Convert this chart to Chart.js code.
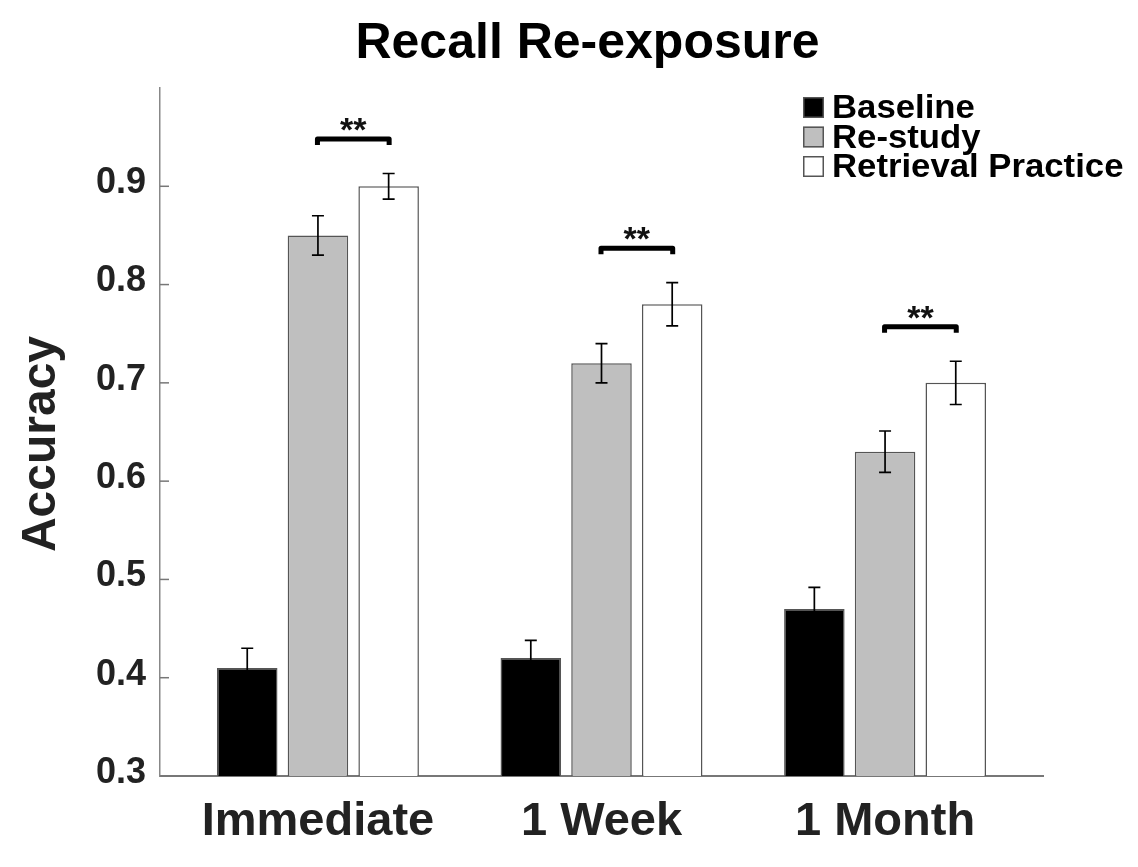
<!DOCTYPE html>
<html>
<head>
<meta charset="utf-8">
<script src="https://cdn.jsdelivr.net/npm/chart.js@4/dist/chart.umd.min.js"></script>
<style>
  html, body { margin: 0; padding: 0; background: #fff; }
  canvas { display: block; }
</style>
</head>
<body>
<canvas id="chart" width="1138" height="867"></canvas>
<script>
// Recall accuracy by test delay and study condition
const categories = ['Immediate', '1 Week', '1 Month'];
const seriesNames = ['Baseline', 'Re-study', 'Retrieval Practice'];
const baseline = [0.41, 0.42, 0.47];
const restudy = [0.85, 0.72, 0.63];
const retrieval = [0.90, 0.78, 0.70];
const baselineErr = [0.020, 0.018, 0.022];
const restudyErr = [0.020, 0.020, 0.021];
const retrievalErr = [0.013, 0.022, 0.022];
const yTicks = [0.3, 0.4, 0.5, 0.6, 0.7, 0.8, 0.9];
// significance brackets between Re-study and Retrieval Practice
const sigLevels = [0.948, 0.837, 0.757];
const sigLabels = ['**', '**', '**'];

const titleText = 'Recall Re-exposure';
const yTitleText = 'Accuracy';
const FONT = '"Liberation Sans", Arial, Helvetica, sans-serif';

const toPoints = arr => arr.map((v, i) => ({ x: i + 1, y: v }));

const barStyle = {
  borderColor: '#555',
  borderWidth: 1.5,
  borderSkipped: false,
  categoryPercentage: 0.748,
  barPercentage: 0.856
};

const datasets = [
  { label: seriesNames[0], data: toPoints(baseline), errors: baselineErr, backgroundColor: '#000000', ...barStyle },
  { label: seriesNames[1], data: toPoints(restudy), errors: restudyErr, backgroundColor: '#bfbfbf', ...barStyle },
  { label: seriesNames[2], data: toPoints(retrieval), errors: retrievalErr, backgroundColor: '#ffffff', ...barStyle }
];

// error bars (mean +/- SEM) centred on each bar
const errorBars = {
  id: 'errorBars',
  afterDatasetsDraw(chart) {
    const ctx = chart.ctx, ys = chart.scales.y;
    ctx.save();
    ctx.strokeStyle = '#000';
    ctx.lineWidth = 1.7;
    chart.data.datasets.forEach((ds, di) => {
      chart.getDatasetMeta(di).data.forEach((bar, i) => {
        const v = ds.data[i].y, e = ds.errors[i];
        const t = ys.getPixelForValue(v + e), b = ys.getPixelForValue(v - e);
        const cap = 6;
        ctx.beginPath();
        ctx.moveTo(bar.x, t); ctx.lineTo(bar.x, b);
        ctx.moveTo(bar.x - cap, t); ctx.lineTo(bar.x + cap, t);
        ctx.moveTo(bar.x - cap, b); ctx.lineTo(bar.x + cap, b);
        ctx.stroke();
      });
    });
    ctx.restore();
  }
};

// brackets with significance stars over each Re-study / Retrieval pair
const sigBrackets = {
  id: 'sigBrackets',
  afterDatasetsDraw(chart) {
    const ctx = chart.ctx, ys = chart.scales.y;
    const m1 = chart.getDatasetMeta(1), m2 = chart.getDatasetMeta(2);
    ctx.save();
    sigLevels.forEach((lv, i) => {
      const x1 = m1.data[i].x - 3, x2 = m2.data[i].x + 3;
      const y = ys.getPixelForValue(lv);
      ctx.strokeStyle = '#000';
      ctx.lineWidth = 5;
      ctx.lineJoin = 'round';
      ctx.lineCap = 'butt';
      ctx.beginPath();
      ctx.moveTo(x1 + 2.5, y + 6);
      ctx.lineTo(x1 + 2.5, y);
      ctx.lineTo(x2 - 2.5, y);
      ctx.lineTo(x2 - 2.5, y + 6);
      ctx.stroke();
      ctx.fillStyle = '#111';
      ctx.font = `bold 34px ${FONT}`;
      ctx.textAlign = 'center';
      ctx.textBaseline = 'alphabetic';
      ctx.fillText(sigLabels[i], (x1 + x2) / 2, y + 2);
    });
    ctx.restore();
  }
};

// inward tick marks, title, y-axis title and legend
const decorations = {
  id: 'decorations',
  afterDraw(chart) {
    const ctx = chart.ctx, ca = chart.chartArea, ys = chart.scales.y;
    ctx.save();
    // tick marks pointing into the plot
    ctx.strokeStyle = '#777';
    ctx.lineWidth = 1.5;
    ys.ticks.forEach(t => {
      const y = ys.getPixelForValue(t.value);
      ctx.beginPath();
      ctx.moveTo(ca.left, y);
      ctx.lineTo(ca.left + 9, y);
      ctx.stroke();
    });

    // title
    ctx.fillStyle = '#000';
    ctx.font = `bold 50px ${FONT}`;
    ctx.textAlign = 'center';
    ctx.textBaseline = 'alphabetic';
    ctx.fillText(titleText, (ca.left + ca.right) / 2 - 14, 58);

    // y-axis title
    ctx.save();
    ctx.fillStyle = '#222';
    ctx.font = `bold 48px ${FONT}`;
    ctx.translate(55, (ca.top + ca.bottom) / 2 + 12);
    ctx.rotate(-Math.PI / 2);
    ctx.textAlign = 'center';
    ctx.fillText(yTitleText, 0, 0);
    ctx.restore();

    // legend
    const lx = ca.right - 240, ly = ca.top + 9, row = 29.5, box = 21;
    chart.data.datasets.forEach((ds, i) => {
      const top = ly + i * row;
      ctx.fillStyle = ds.backgroundColor;
      ctx.fillRect(lx, top, box, box);
      ctx.strokeStyle = '#555';
      ctx.lineWidth = 1.5;
      ctx.strokeRect(lx + 0.75, top + 0.75, box - 1.5, box - 1.5);
      ctx.save();
      ctx.translate(lx + box + 8, top + box);
      ctx.scale(1.12, 1.05);
      ctx.fillStyle = '#000';
      ctx.font = `bold 31px ${FONT}`;
      ctx.textAlign = 'left';
      ctx.textBaseline = 'alphabetic';
      ctx.fillText(ds.label, 0, 0);
      ctx.restore();
    });
    ctx.restore();
  }
};

new Chart(document.getElementById('chart'), {
  type: 'bar',
  data: { datasets },
  options: {
    responsive: false,
    animation: false,
    layout: { padding: { top: 88, right: 95, left: 0, bottom: 0 } },
    plugins: {
      legend: { display: false },
      tooltip: { enabled: false },
      title: { display: false }
    },
    scales: {
      x: {
        type: 'linear',
        min: 0.443,
        max: 3.557,
        offset: false,
        afterBuildTicks: s => { s.ticks = categories.map((_, i) => ({ value: i + 1 })); },
        afterFit: s => { s.height = 91; },
        grid: { display: false },
        border: { display: true, color: '#777', width: 2 },
        ticks: {
          autoSkip: false,
          maxRotation: 0,
          padding: 10,
          color: '#222',
          font: { family: FONT, size: 47, weight: 'bold' },
          callback: v => categories[Math.round(v) - 1] ?? ''
        }
      },
      y: {
        min: 0.3,
        max: 1.0,
        afterBuildTicks: s => { s.ticks = yTicks.map(v => ({ value: v })); },
        afterFit: s => { s.width = 160; },
        grid: { display: false },
        border: { display: true, color: '#888', width: 1.5 },
        ticks: {
          padding: 6,
          labelOffset: -3,
          color: '#222',
          font: { family: FONT, size: 36, weight: 'bold' },
          callback: v => v.toFixed(1)
        }
      }
    }
  },
  plugins: [errorBars, sigBrackets, decorations]
});
</script>
</body>
</html>
